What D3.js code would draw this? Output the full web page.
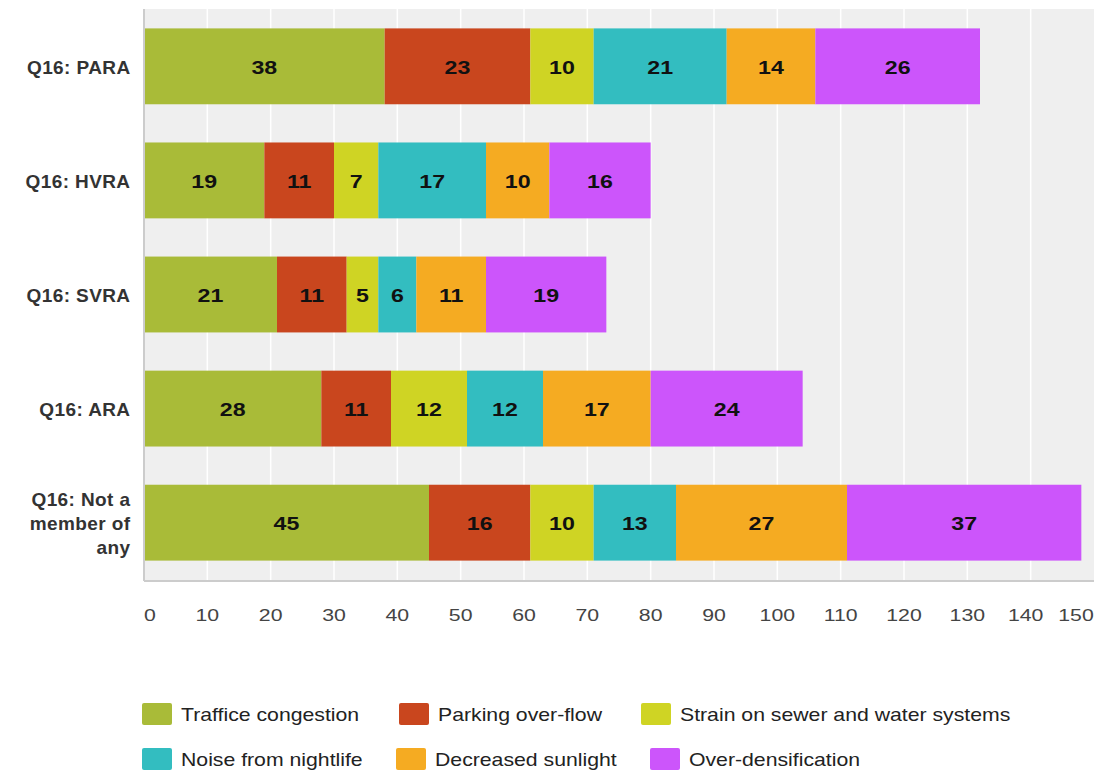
<!DOCTYPE html>
<html>
<head>
<meta charset="utf-8">
<script src="https://cdn.jsdelivr.net/npm/d3@7"></script>
<style>
  body { margin: 0; background: #fff; }
  svg { display: block; font-family: "Liberation Sans", Arial, sans-serif; }
</style>
</head>
<body>
<svg id="chart" width="1099" height="771"></svg>
<script>
// Respondent groups (one horizontal bar each)
const categories = [
  ["Q16: PARA"],
  ["Q16: HVRA"],
  ["Q16: SVRA"],
  ["Q16: ARA"],
  ["Q16: Not a", "member of", "any"]
];
// Concern series, stacked left to right
const seriesNames = [
  "Traffice congestion",
  "Parking over-flow",
  "Strain on sewer and water systems",
  "Noise from nightlife",
  "Decreased sunlight",
  "Over-densification"
];
const trafficValues   = [38, 19, 21, 28, 45];
const parkingValues   = [23, 11, 11, 11, 16];
const sewerValues     = [10, 7, 5, 12, 10];
const noiseValues     = [21, 17, 6, 12, 13];
const sunlightValues  = [14, 10, 11, 17, 27];
const densityValues   = [26, 16, 19, 24, 37];
const xTicks = [0, 10, 20, 30, 40, 50, 60, 70, 80, 90, 100, 110, 120, 130, 140, 150];

const colors = ["#a9bb38", "#c9461e", "#cfd424", "#33bdc0", "#f5ab22", "#cc55fb"];
const allSeries = [trafficValues, parkingValues, sewerValues, noiseValues, sunlightValues, densityValues];

const svg = d3.select("#chart");
const plotLeft = 144, plotRight = 1094, plotTop = 9, plotBottom = 580;

const x = d3.scaleLinear().domain([0, 150]).range([plotLeft, plotRight]);
const y = d3.scaleBand().domain(d3.range(categories.length)).range([plotTop, plotBottom]).paddingInner(0.335).paddingOuter(0.17);

// Text drawn in a slightly widened face (horizontal stretch around its anchor)
function wideText(parent, tx, ty, sx) {
  return parent.append("g").attr("transform", `translate(${tx},${ty}) scale(${sx},1)`)
    .append("text").attr("x", 0).attr("y", 0).attr("dominant-baseline", "central");
}

// Plot background and vertical gridlines
svg.append("rect").attr("x", plotLeft).attr("y", plotTop).attr("width", plotRight - plotLeft).attr("height", plotBottom - plotTop).attr("fill", "#efefef");
svg.append("g").selectAll("line").data(xTicks.slice(1, -1)).join("line")
  .attr("x1", d => x(d)).attr("x2", d => x(d))
  .attr("y1", plotTop).attr("y2", plotBottom)
  .attr("stroke", "#ffffff").attr("stroke-width", 1.5);

// Stacked bar segments
const rows = categories.map((c, i) => {
  const r = { idx: i };
  seriesNames.forEach((s, k) => r[s] = allSeries[k][i]);
  return r;
});
const stack = d3.stack().keys(seriesNames)(rows);

const segs = svg.append("g");
stack.forEach((layer, k) => {
  layer.forEach((d, i) => {
    segs.append("rect")
      .attr("x", x(d[0])).attr("y", y(i))
      .attr("width", x(d[1]) - x(d[0])).attr("height", y.bandwidth())
      .attr("fill", colors[k]);
  });
});
stack.forEach((layer, k) => {
  layer.forEach((d, i) => {
    wideText(segs, (x(d[0]) + x(d[1])) / 2, y(i) + y.bandwidth() / 2 + 1, 1.22)
      .attr("text-anchor", "middle")
      .attr("font-size", 19).attr("font-weight", "bold").attr("fill", "#111")
      .text(d[1] - d[0]);
  });
});

// Axis lines
svg.append("line").attr("x1", plotLeft).attr("x2", plotLeft).attr("y1", plotTop).attr("y2", plotBottom + 1)
  .attr("stroke", "#cccccc").attr("stroke-width", 2);
svg.append("line").attr("x1", plotLeft).attr("x2", plotRight).attr("y1", plotBottom + 1).attr("y2", plotBottom + 1)
  .attr("stroke", "#cccccc").attr("stroke-width", 2);

// X tick labels (positions from the axis generator's scale)
const xAxis = d3.axisBottom(x).tickValues(xTicks);
const tickShift = d => d === 150 ? -18 : d === 140 ? -5 : d === 0 ? 6 : 0;
const gx = svg.append("g");
xAxis.tickValues().forEach(d => {
  wideText(gx, xAxis.scale()(d) + tickShift(d), 615, 1.25)
    .attr("text-anchor", "middle").attr("font-size", 17).attr("fill", "#444")
    .text(xAxis.tickFormat() ? xAxis.tickFormat()(d) : x.tickFormat()(d));
});

// Category labels
const gy = svg.append("g");
categories.forEach((lines, i) => {
  const cy = y(i) + y.bandwidth() / 2;
  const lh = 24;
  const t = gy.append("text")
    .attr("text-anchor", "end").attr("font-size", 19).attr("font-weight", "bold").attr("fill", "#333")
    .attr("letter-spacing", 0.4);
  lines.forEach((ln, j) => {
    t.append("tspan").attr("x", 130.5)
      .attr("y", cy + (j - (lines.length - 1) / 2) * lh + 1)
      .attr("dominant-baseline", "central").text(ln);
  });
});

// Legend
const legendPos = [
  [142, 714], [399, 714], [641, 714],
  [142, 759], [396, 759], [650, 759]
];
const lg = svg.append("g");
seriesNames.forEach((s, k) => {
  const [lx, ly] = legendPos[k];
  lg.append("rect").attr("x", lx).attr("y", ly - 11).attr("width", 30).attr("height", 22)
    .attr("rx", 2).attr("fill", colors[k]);
  wideText(lg, lx + 39, ly + 1, 1.18)
    .attr("font-size", 18).attr("fill", "#222").text(s);
});
</script>
</body>
</html>
